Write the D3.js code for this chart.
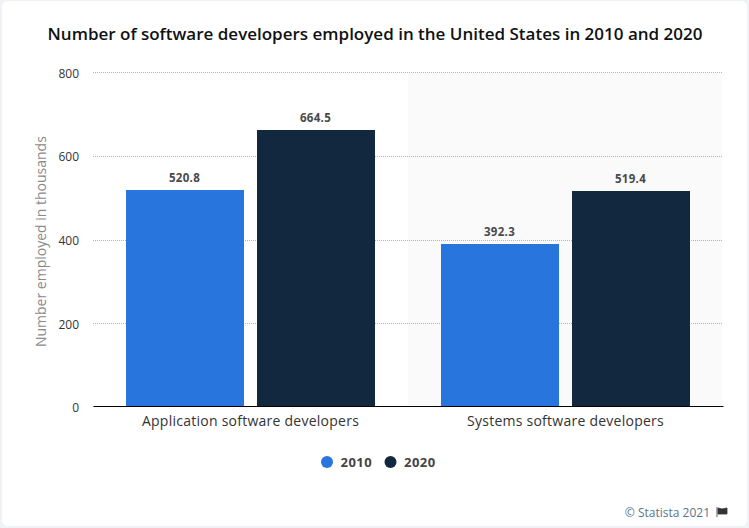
<!DOCTYPE html>
<html><head><meta charset="utf-8">
<script src="https://cdn.jsdelivr.net/npm/d3@7"></script>
<style>html,body{margin:0;padding:0;background:#f1f2f6;overflow:hidden}svg{display:block}</style>
</head><body><svg id="c" width="749" height="528"></svg>
<script>
const title = "Number of software developers employed in the United States in 2010 and 2020";
const categories = ["Application software developers", "Systems software developers"];
const seriesNames = ["2010", "2020"];
const values2010 = [520.8, 392.3];
const values2020 = [664.5, 519.4];
const yTicks = [0, 200, 400, 600, 800];
const yLabel = "Number employed in thousands";
const credit = "© Statista 2021";
const colors = ["#2875dd", "#12283f"];

const svg = d3.select("#c");
const M = {l: 93, r: 723, t: 72.4, b: 406.8, axis: 406};
const font = "'Open Sans', sans-serif";
const crisp = v => Math.round(v) + 0.5;
const barTop = v => Math.ceil(v + 0.5);

svg.append("rect").attr("x", 2).attr("y", 1).attr("width", 745).attr("height", 525).attr("rx", 6).attr("fill", "#fff");

const x0 = d3.scaleBand().domain(categories).range([M.l, M.r]);
const x1 = d3.scaleBand().domain(seriesNames).range([0, x0.bandwidth()]).paddingInner(13 / 131).paddingOuter(33 / 131);
const y = d3.scaleLinear().domain([0, 800]).range([M.b, M.t]);

// alternate band
svg.append("rect").attr("x", x0(categories[1])).attr("y", 73).attr("width", x0.bandwidth() - 1).attr("height", M.axis - 73).attr("fill", "#fafafa");

// grid
const yAxis = d3.axisLeft(y).tickValues(yTicks).tickSize(0).tickPadding(14);
const gy = svg.append("g").attr("transform", `translate(${M.l},1)`).call(yAxis);
gy.select(".domain").remove();
gy.selectAll("text").attr("font-family", font).attr("font-size", 12).attr("fill", "#333");
svg.append("g").selectAll("line").data(yTicks.filter(d => d > 0)).join("line")
  .attr("x1", M.l).attr("x2", M.r).attr("y1", d => crisp(y(d))).attr("y2", d => crisp(y(d)))
  .attr("stroke", "#b4b4b4").attr("stroke-width", 1).attr("stroke-dasharray", "1 1");

// bars
const series = [values2010, values2020];
seriesNames.forEach((s, si) => {
  const g = svg.append("g");
  g.selectAll("rect").data(series[si]).join("rect")
    .attr("x", (d, i) => x0(categories[i]) + x1(s))
    .attr("y", d => barTop(y(d)))
    .attr("width", x1.bandwidth())
    .attr("height", d => M.axis - barTop(y(d)))
    .attr("fill", colors[si]);
  g.selectAll("text").data(series[si]).join("text")
    .attr("x", (d, i) => x0(categories[i]) + x1(s) + x1.bandwidth() / 2 - 0.5)
    .attr("y", d => barTop(y(d)) - 8)
    .attr("text-anchor", "middle")
    .attr("font-family", font).attr("font-size", 11.5).attr("font-weight", 700).attr("letter-spacing", 0.3).attr("fill", "#4a4a4a")
    .text(d => d3.format(".1f")(d));
});

// x axis
const xAxis = d3.axisBottom(x0).tickSize(0).tickPadding(10.5);
const gx = svg.append("g").attr("transform", `translate(0,${M.axis})`).call(xAxis);
gx.select(".domain").attr("stroke", "#000").attr("stroke-width", 1);
gx.selectAll("text").attr("font-family", font).attr("font-size", 14).attr("letter-spacing", 0.25).attr("fill", "#333");

// y label
svg.append("text").attr("transform", `translate(46,${(M.t + M.b) / 2 + 2}) rotate(-90)`)
  .attr("text-anchor", "middle").attr("font-family", font).attr("font-size", 14).attr("fill", "#8a8a8a").text(yLabel);

// title
svg.append("text").attr("x", 375).attr("y", 40).attr("text-anchor", "middle")
  .attr("font-family", font).attr("font-size", 17).attr("font-weight", 600).attr("fill", "#111").text(title);

// legend
const legendX = d3.scaleOrdinal().domain(seriesNames).range([327, 390.5]);
const lg = svg.append("g").selectAll("g").data(seriesNames).join("g")
  .attr("transform", d => `translate(${legendX(d)},462)`);
lg.append("circle").attr("r", 6).attr("fill", (d, i) => colors[i]);
lg.append("text").attr("x", 13.5).attr("y", 4.5).attr("font-family", font).attr("font-size", 13).attr("font-weight", 700).attr("letter-spacing", 0.5).attr("fill", "#444").text(d => d);

// credit
svg.append("text").attr("x", 710).attr("y", 517).attr("text-anchor", "end")
  .attr("font-family", font).attr("font-size", 12).attr("fill", "#5b7390").text(credit);
const flag = d3.path();
flag.moveTo(717, 507); flag.lineTo(717, 517); flag.moveTo(718, 508); flag.lineTo(722, 509); flag.lineTo(727, 508); flag.lineTo(727, 514); flag.lineTo(722, 514); flag.lineTo(718, 514); flag.closePath();
svg.append("path").attr("d", flag.toString()).attr("fill", "#333").attr("stroke", "#333").attr("stroke-width", 0.8);
</script></body></html>
